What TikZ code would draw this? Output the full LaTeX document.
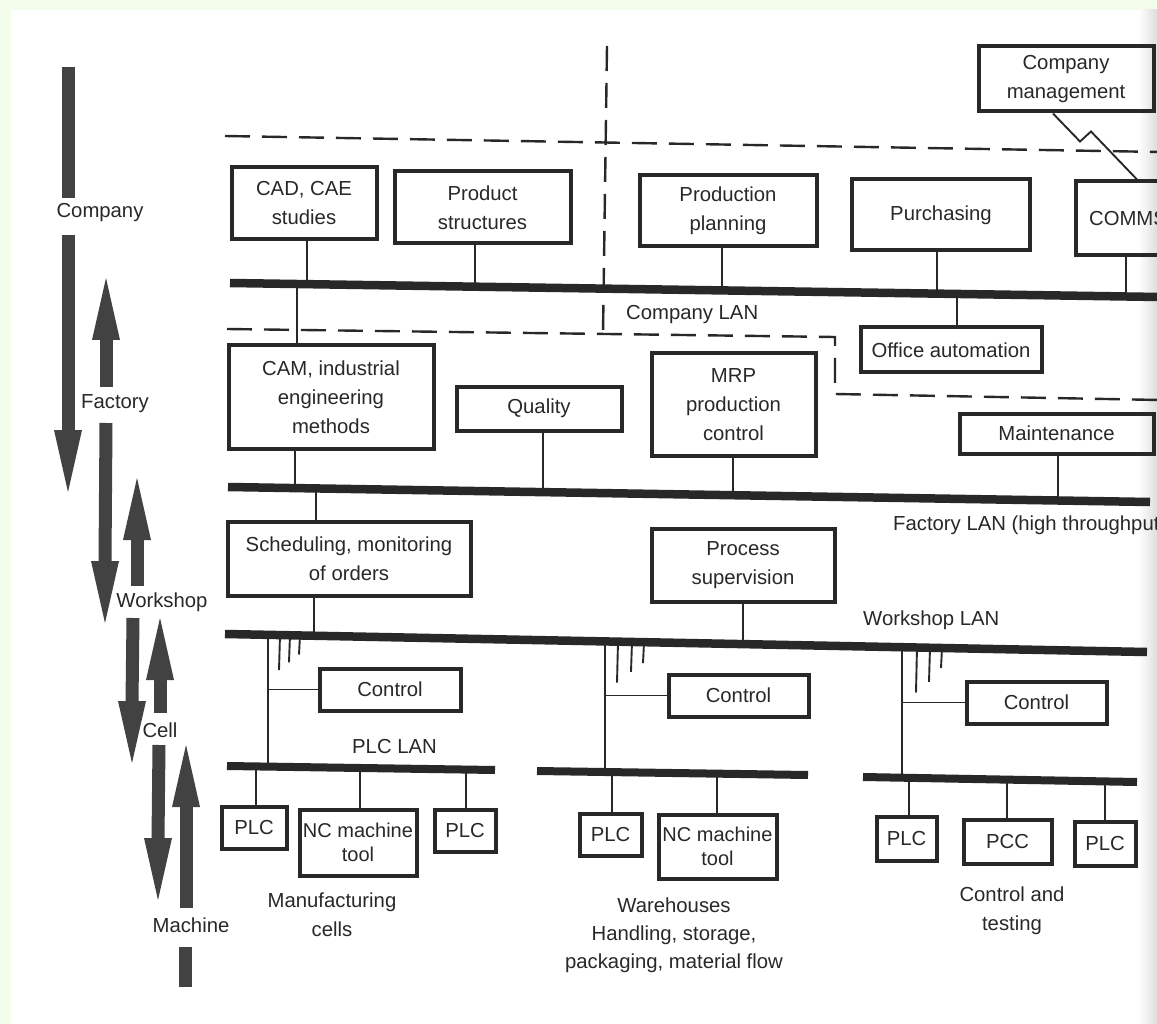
\documentclass[tikz,border=0pt]{standalone}
\usepackage{fontspec}
\setmainfont{Liberation Sans}
\usetikzlibrary{calc}
\definecolor{pagegreen}{RGB}{244,253,236}
\definecolor{ink}{RGB}{40,40,40}
\definecolor{arrowgray}{RGB}{66,66,66}
\begin{document}
\begin{tikzpicture}[x=1pt,y=-1pt,
  every node/.style={font=\fontsize{20.3}{29}\selectfont, text=ink, inner sep=0pt},
  box/.style={draw=ink, line width=4pt, align=center},
  lbl/.style={anchor=base},
  txt/.style={align=center},
  link/.style={draw=ink, line width=1.9pt},
  bus/.style={draw=ink, line width=8.5pt},
  zone/.style={draw=ink, line width=2.4pt, dash pattern=on 25pt off 12pt},
  shaft/.style={draw=arrowgray, line width=13pt},
  headdown/.pic={\fill[arrowgray] (0,0) -- (-14,-62) -- (14,-62) -- cycle;},
  headup/.pic={\fill[arrowgray] (0,0) -- (-14,62) -- (14,62) -- cycle;}]

% page
\useasboundingbox (0,0) rectangle (1157,1024);
\clip (0,0) rectangle (1157,1024);
\fill[pagegreen] (0,0) rectangle (1157,1024);
\fill[white] (11,10) rectangle (1157,1024);
\shade[left color=white, right color=black!13] (1138,10) rectangle (1157,1024);

% ---------- level labels and arrows ----------
\node[lbl] (lcompany) at (100,218) {Company};
\node[lbl] (lfactory) at (115,408) {Factory};
\node[lbl] (lworkshop) at (162,607) {Workshop};
\node[lbl] (lcell) at (160,737) {Cell};
\node[lbl] (lmachine) at (191,932) {Machine};

\draw[shaft] (68,67) -- (68,198);
\draw[shaft] (68,235) -- (68,432);
\pic at (68,492) {headdown};

\draw[shaft] (106,387) -- (106,338);
\pic at (106,278) {headup};
\draw[shaft] (106,423) -- (105,563);
\pic at (105,623) {headdown};

\draw[shaft] (137,586) -- (137,538);
\pic at (137,478) {headup};
\draw[shaft] (133,618) -- (132,703);
\pic at (132,763) {headdown};

\draw[shaft] (160,713) -- (160,678);
\pic at (160,618) {headup};
\draw[shaft] (159,745) -- (158,840);
\pic at (158,900) {headdown};

\draw[shaft] (186,908) -- (186,805);
\pic at (186,745) {headup};
\draw[shaft] (185,947) -- (185,987);

% ---------- dashed zone borders ----------
\coordinate (zt1) at (225,136);
\coordinate (zt2) at (1160,152);
\coordinate (zv1) at (607,46);
\coordinate (zv2) at (603,334);
\coordinate (zb1) at (227,329);
\coordinate (zb2) at (835,337);
\coordinate (zb3) at (835,394);
\coordinate (zb4) at (1160,400);
\draw[zone] (zt1) -- (zt2);
\draw[zone] (zv1) -- (zv2);
\draw[zone] (zb1) -- (zb2) -- (zb3) -- (zb4);

% ---------- buses ----------
\coordinate (clanL) at (230,283);
\coordinate (clanR) at (1160,297);
\coordinate (flanL) at (228,487);
\coordinate (flanR) at (1150,502);
\coordinate (wlanL) at (225,634);
\coordinate (wlanR) at (1147,652);
\coordinate (p1L) at (227,766);
\coordinate (p1R) at (495,770);
\coordinate (p2L) at (537,771);
\coordinate (p2R) at (808,775);
\coordinate (p3L) at (863,777);
\coordinate (p3R) at (1137,782);
\draw[bus] (clanL) -- (clanR);
\draw[bus] (flanL) -- (flanR);
\draw[bus] (wlanL) -- (wlanR);
\draw[bus, line width=8pt] (p1L) -- (p1R);
\draw[bus, line width=8pt] (p2L) -- (p2R);
\draw[bus, line width=8pt] (p3L) -- (p3R);

\node[anchor=base west] (clan) at (626,320) {Company LAN};
\node[anchor=base west] (flan) at (893,530) {Factory LAN (high throughput)};
\node[anchor=base west] (wlan) at (863,625) {Workshop LAN};
\node[anchor=base west] (plclan) at (352,753) {PLC LAN};

% ---------- company level ----------
\node[box, minimum width=145, minimum height=72] (cad) at (304,203.5) {CAD, CAE\\studies};
\node[box, minimum width=176, minimum height=72] (prod) at (482.5,207.5) {Product\\structures};
\node[box, minimum width=177, minimum height=71] (plan) at (728,211) {Production\\planning};
\node[box, minimum width=178, minimum height=71] (purch) at (941,215) {Purchasing};
\node[box, minimum width=104, minimum height=74] (comms) at (1128,218.5) {COMMS};
\node[box, minimum width=175, minimum height=65] (mgmt) at (1066,79) {Company\\management};
\node[box, minimum width=181, minimum height=45] (office) at (951,350) {Office automation};

% ---------- factory level ----------
\node[box, minimum width=205, minimum height=103] (cam) at (331,397) {CAM, industrial\\engineering\\methods};
\node[box, minimum width=165, minimum height=44] (qual) at (539,408.5) {Quality};
\node[box, minimum width=164, minimum height=102] (mrp) at (733.5,404.5) {MRP\\production\\control};
\node[box, minimum width=194, minimum height=40] (maint) at (1056.5,433.5) {Maintenance};

% ---------- workshop level ----------
\node[box, minimum width=243, minimum height=74] (sched) at (349,558.5) {Scheduling, monitoring\\of orders};
\node[box, minimum width=183, minimum height=73] (proc) at (743,565) {Process\\supervision};

% ---------- cell level ----------
\node[box, minimum width=141, minimum height=42] (ctrl1) at (390,689.5) {Control};
\node[box, minimum width=140, minimum height=42] (ctrl2) at (738.5,695.5) {Control};
\node[box, minimum width=140, minimum height=42] (ctrl3) at (1036.5,702.5) {Control};

% ---------- machine level ----------
\node[box, minimum width=65, minimum height=42] (plc1) at (254,827.5) {PLC};
\node[box, minimum width=117, minimum height=66, font=\fontsize{20}{24}\selectfont] (nc1) at (358,842.5) {NC machine\\tool};
\node[box, minimum width=61, minimum height=42] (plc2) at (465,830.5) {PLC};
\node[box, minimum width=62, minimum height=42] (plc3) at (610.5,834.5) {PLC};
\node[box, minimum width=118, minimum height=64, font=\fontsize{20}{24}\selectfont] (nc2) at (717.5,846.5) {NC machine\\tool};
\node[box, minimum width=60, minimum height=44] (plc4) at (906.5,838.5) {PLC};
\node[box, minimum width=88, minimum height=44] (pcc) at (1007.5,841.5) {PCC};
\node[box, minimum width=61, minimum height=44] (plc5) at (1105,843.5) {PLC};

\node[txt] (mcells) at (332,915) {Manufacturing\\cells};
\node[txt, font=\fontsize{20.3}{28}\selectfont] (wareh) at (674,935) {Warehouses\\Handling, storage,\\packaging, material flow};
\node[txt] (ctest) at (1012,911) {Control and\\testing};

% ---------- taps on the company LAN ----------
\coordinate (cadT) at (307,284.2);
\coordinate (prodT) at (475,286.7);
\coordinate (planT) at (722,290.4);
\coordinate (purchT) at (937,293.6);
\coordinate (commsT) at (1126,296.5);
\coordinate (offT) at (957,293.9);
\coordinate (camT) at (297,284.0);
\draw[link] (cad.south -| cadT) -- (cadT);
\draw[link] (prod.south -| prodT) -- (prodT);
\draw[link] (plan.south -| planT) -- (planT);
\draw[link] (purch.south -| purchT) -- (purchT);
\draw[link] (comms.south -| commsT) -- (commsT);
\draw[link] (offT) -- (office.north -| offT);
\draw[link] (camT) -- (cam.north -| camT);
\draw[link] ([xshift=-13pt]mgmt.south) -- ++(27,28) -- ++(11,-10) -- ([xshift=9pt]comms.north);

% ---------- taps on the factory LAN ----------
\coordinate (camF) at (295,488.1);
\coordinate (qualF) at (543,492.1);
\coordinate (mrpF) at (733,495.2);
\coordinate (maintF) at (1058,500.5);
\coordinate (schedF) at (316,488.4);
\draw[link] (cam.south -| camF) -- (camF);
\draw[link] (qual.south -| qualF) -- (qualF);
\draw[link] (mrp.south -| mrpF) -- (mrpF);
\draw[link] (maint.south -| maintF) -- (maintF);
\draw[link] (schedF) -- (sched.north -| schedF);

% ---------- taps on the workshop LAN ----------
\coordinate (schedW) at (314,635.7);
\coordinate (procW) at (743,644.1);
\draw[link] (sched.south -| schedW) -- (schedW);
\draw[link] (proc.south -| procW) -- (procW);

% cell drops, with their spare tap stubs
\coordinate (c1W) at (268,634.8);
\coordinate (c1P) at (268,766.6);
\coordinate (c2W) at (605,641.4);
\coordinate (c2P) at (605,772.0);
\coordinate (c3W) at (902,647.2);
\coordinate (c3P) at (902,777.7);
\draw[link] (c1W) -- (c1P);
\draw[link] (c2W) -- (c2P);
\draw[link] (c3W) -- (c3P);
\draw[link] (ctrl1.west) -- (ctrl1.west -| c1W);
\draw[link] (ctrl2.west) -- (ctrl2.west -| c2W);
\draw[link] (ctrl3.west) -- (ctrl3.west -| c3W);

\coordinate (s11) at (280,635.1);
\coordinate (s12) at (290,635.3);
\coordinate (s13) at (300,635.5);
\coordinate (s21) at (618,641.7);
\coordinate (s22) at (632,641.9);
\coordinate (s23) at (644,642.2);
\coordinate (s31) at (917,647.5);
\coordinate (s32) at (930,647.8);
\coordinate (s33) at (942,648.0);
\draw[link] (s11) -- ++(-1,35);
\draw[link] (s12) -- ++(-1,27);
\draw[link] (s13) -- ++(-1,19);
\draw[link] (s21) -- ++(-1,41);
\draw[link] (s22) -- ++(-1,30);
\draw[link] (s23) -- ++(-1,21);
\draw[link] (s31) -- ++(-1,45);
\draw[link] (s32) -- ++(-1,34);
\draw[link] (s33) -- ++(-1,20);

% ---------- taps on the PLC LANs ----------
\coordinate (plc1T) at (256,766.4);
\coordinate (nc1T) at (360,768.0);
\coordinate (plc2T) at (466,769.6);
\coordinate (plc3T) at (612,772.1);
\coordinate (nc2T) at (717,773.7);
\coordinate (plc4T) at (909,777.8);
\coordinate (pccT) at (1007,779.6);
\coordinate (plc5T) at (1105,781.4);
\draw[link] (plc1T) -- (plc1.north -| plc1T);
\draw[link] (nc1T) -- (nc1.north -| nc1T);
\draw[link] (plc2T) -- (plc2.north -| plc2T);
\draw[link] (plc3T) -- (plc3.north -| plc3T);
\draw[link] (nc2T) -- (nc2.north -| nc2T);
\draw[link] (plc4T) -- (plc4.north -| plc4T);
\draw[link] (pccT) -- (pcc.north -| pccT);
\draw[link] (plc5T) -- (plc5.north -| plc5T);

\end{tikzpicture}
\end{document}
